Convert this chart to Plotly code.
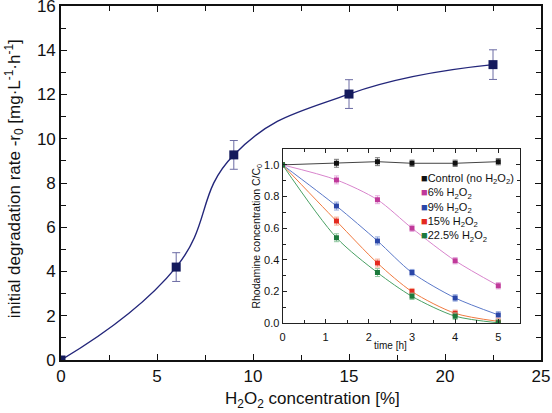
import plotly.graph_objects as go

# ---- main data ----
h2o2_conc = [0, 6, 9, 15, 22.5]
rate = [0.0, 4.2, 9.27, 12.02, 13.35]
rate_err = [0.0, 0.65, 0.65, 0.65, 0.67]

# ---- inset data ----
time_h = [0, 1.25, 2.2, 3, 4, 5]
ctrl = [1.0, 1.01, 1.02, 1.01, 1.01, 1.02]
c6 = [1.0, 0.905, 0.78, 0.60, 0.395, 0.237]
c9 = [1.0, 0.74, 0.52, 0.32, 0.16, 0.053]
c15 = [1.0, 0.645, 0.38, 0.20, 0.063, 0.012]
c225 = [1.0, 0.54, 0.32, 0.17, 0.045, 0.003]
inset_err = [0.0, 0.025, 0.025, 0.02, 0.02, 0.02]

series = [
    ("Control (no H<sub>2</sub>O<sub>2</sub>)", ctrl, "#111111", "#444444", "#777777", "linear"),
    ("6% H<sub>2</sub>O<sub>2</sub>", c6, "#c0399a", "#d884cc", "#e4a8dc", "spline"),
    ("9% H<sub>2</sub>O<sub>2</sub>", c9, "#2a46a8", "#5a78c8", "#8ea4dc", "spline"),
    ("15% H<sub>2</sub>O<sub>2</sub>", c15, "#e42a20", "#f07a40", "#f4a890", "spline"),
    ("22.5% H<sub>2</sub>O<sub>2</sub>", c225, "#1c7a3c", "#4aa064", "#90c8a0", "spline"),
]

fig = go.Figure()

fig.add_trace(go.Scatter(
    x=h2o2_conc, y=rate, mode="lines+markers",
    line=dict(color="#23267a", width=1.4, shape="spline", smoothing=1.3),
    marker=dict(symbol="square", size=9, color="#141a5c"),
    error_y=dict(type="data", array=rate_err, color="#6c6ca4", thickness=1, width=4),
    showlegend=False, xaxis="x", yaxis="y",
))

for name, vals, mc, lc, ec, shape in series:
    fig.add_trace(go.Scatter(
        x=time_h, y=vals, mode="lines+markers",
        line=dict(color=lc, width=1, shape=shape, smoothing=0.8),
        marker=dict(symbol="square", size=5, color=mc),
        error_y=dict(type="data", array=inset_err, color=ec, thickness=1, width=2.5),
        showlegend=False, xaxis="x2", yaxis="y2", name=name,
    ))

legend_text = "<br>".join(
    f"<span style='color:{mc}'>■</span>{name}" for name, _, mc, _, _, _ in series
)

font_main = "Liberation Sans, Arial, sans-serif"

fig.update_layout(
    width=552, height=413,
    margin=dict(l=61, r=11, t=6, b=53),
    paper_bgcolor="white", plot_bgcolor="white",
    font=dict(family=font_main, color="#111111"),
    xaxis=dict(
        domain=[0, 1], range=[0, 25], dtick=5, tick0=0,
        ticks="inside", ticklen=6, tickwidth=1.3, tickcolor="#111",
        minor=dict(dtick=2.5, ticks="inside", ticklen=5, tickwidth=1.3, tickcolor="#111"),
        showline=True, linewidth=1.6, linecolor="#111", mirror="ticks",
        showgrid=False, zeroline=False,
        tickfont=dict(size=17), ticklabeloverflow="allow",
        automargin=False,
    ),
    yaxis=dict(
        domain=[0, 1], range=[0, 16], dtick=2, tick0=0,
        ticks="inside", ticklen=6, tickwidth=1.3, tickcolor="#111",
        minor=dict(dtick=1, ticks="inside", ticklen=5, tickwidth=1.3, tickcolor="#111"),
        showline=True, linewidth=1.6, linecolor="#111", mirror="ticks",
        showgrid=False, zeroline=False,
        tickfont=dict(size=17), ticklabeloverflow="allow",
        automargin=False,
    ),
    xaxis2=dict(
        domain=[0.4615, 0.956], anchor="y2", range=[0, 5.5], dtick=1, tick0=0,
        ticks="inside", ticklen=4, tickwidth=1, tickcolor="#222",
        minor=dict(dtick=0.5, ticks="inside", ticklen=3, tickwidth=1, tickcolor="#222"),
        showline=True, linewidth=1, linecolor="#222", mirror="ticks",
        showgrid=False, zeroline=False,
        tickfont=dict(size=11), ticklabelstandoff=4, ticklabeloverflow="allow",
    ),
    yaxis2=dict(
        domain=[0.1037, 0.596], anchor="x2", range=[0, 1.1], dtick=0.2, tick0=0,
        tickformat=".1f",
        ticks="inside", ticklen=4, tickwidth=1, tickcolor="#222",
        minor=dict(dtick=0.1, ticks="inside", ticklen=3, tickwidth=1, tickcolor="#222"),
        showline=True, linewidth=1, linecolor="#222", mirror="ticks",
        showgrid=False, zeroline=False,
        tickfont=dict(size=11), ticklabeloverflow="allow",
        title=dict(text="Rhodamine concentration C/C<sub>0</sub>", font=dict(size=10.5), standoff=1),
    ),
    annotations=[
        dict(text="H<sub>2</sub>O<sub>2</sub> concentration [%]", x=0.523, y=-0.113,
             xref="paper", yref="paper", showarrow=False, xanchor="center", yanchor="middle",
             font=dict(size=17)),
        dict(text="initial degradation rate -r<sub>0</sub> [mg·L<sup>-1</sup>·h<sup>-1</sup>]",
             x=-0.098, y=0.513, xref="paper", yref="paper", textangle=-90,
             showarrow=False, xanchor="center", yanchor="middle", font=dict(size=17)),
        dict(text="time [h]", x=2.5, y=0.04, xref="x2", yref="paper",
             showarrow=False, xanchor="center", yanchor="middle", font=dict(size=10)),
        dict(text=legend_text, x=3.17, y=0.965, xref="x2", yref="y2",
             showarrow=False, xanchor="left", yanchor="top", align="left",
             font=dict(size=11, color="#111")),
    ],
)

fig.write_html("out.html", config={"displayModeBar": False},
               post_script="document.body.style.margin='0';document.body.style.padding='0';")
